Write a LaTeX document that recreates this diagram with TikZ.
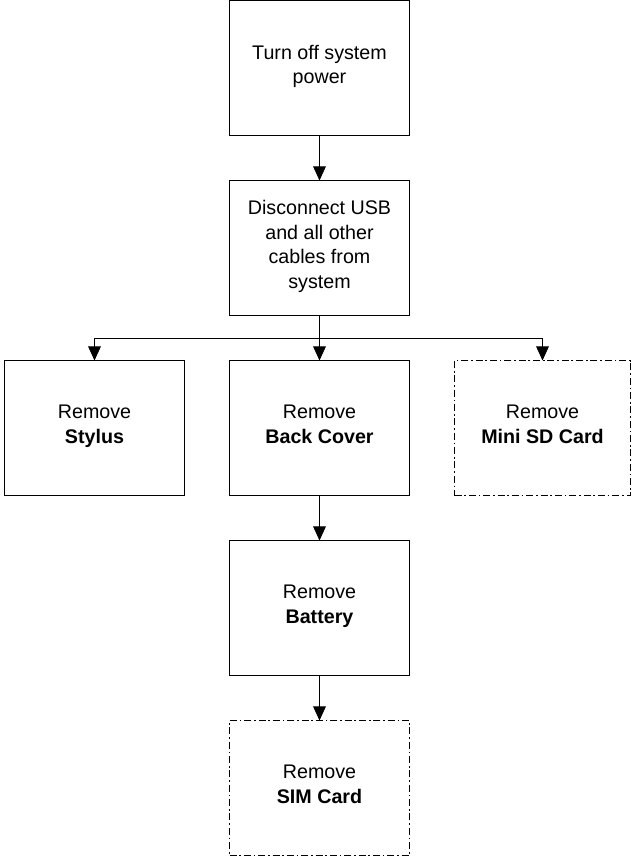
\documentclass[tikz,border=0pt]{standalone}
\usepackage{fontspec}
\setmainfont{Liberation Sans}
\usepackage{tikz}
\usetikzlibrary{arrows.meta,positioning,calc}

\begin{document}
\begin{tikzpicture}[
  node distance=1.125cm,
  box/.style={rectangle, draw, line width=0.6pt, outer sep=0pt, minimum width=4.5cm, minimum height=3.375cm, align=center, font=\fontsize{14}{17.5}\selectfont},
  optbox/.style={box, dash pattern=on 5pt off 2pt on 1.2pt off 2pt},
  arr/.style={-{Triangle[length=10pt,width=9pt]}, line width=0.6pt}
]
\useasboundingbox (0,0) rectangle (15.825,-21.425);

\node[box] (power) at (7.9875,-1.7) {Turn off system\\power\strut};

\node[box, below=of power] (cables) {Disconnect USB\\and all other\\cables from\\system\strut};
\draw[arr] (power) -- (cables);

\node[box, below=of cables] (cover) {Remove\\\textbf{Back Cover}\strut};
\node[box, left=of cover] (stylus) {Remove\\\textbf{Stylus}\strut};
\node[optbox, right=of cover, minimum width=4.4cm] (sdcard) {Remove\\\textbf{Mini SD Card}\strut};

\coordinate (split) at ($(cables.south)!0.5!(cover.north)$);
\draw[arr] (cables) -- (cover);
\draw[arr] (split) -| (stylus);
\draw[arr] (split) -| (sdcard);

\node[box, below=of cover] (battery) {Remove\\\textbf{Battery}\strut};
\draw[arr] (cover) -- (battery);

\node[optbox, below=of battery] (sim) {Remove\\\textbf{SIM Card}\strut};
\draw[arr] (battery) -- (sim);

\end{tikzpicture}
\end{document}
